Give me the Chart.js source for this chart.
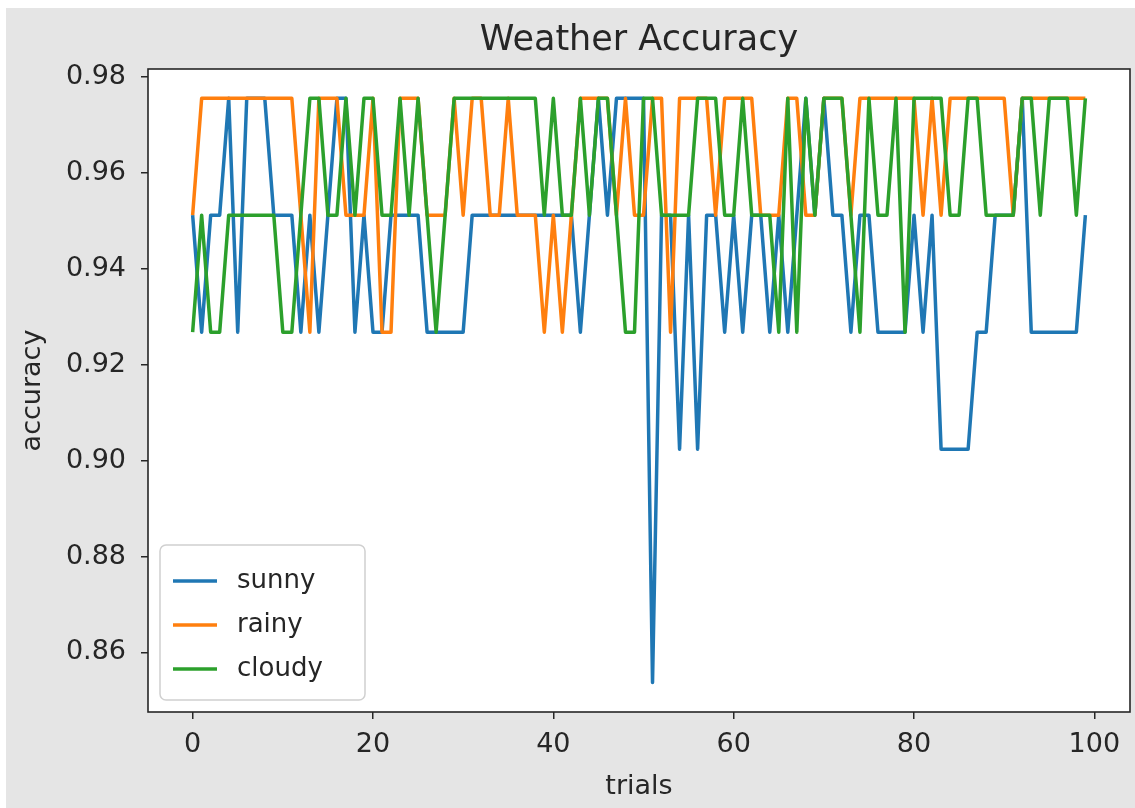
<!DOCTYPE html>
<html>
<head>
<meta charset="utf-8">
<script src="https://cdn.jsdelivr.net/npm/chart.js@4.4.1/dist/chart.umd.min.js"></script>
<style>
  html, body { margin: 0; padding: 0; background: #fff; }
  #wrap { position: relative; width: 1135px; height: 808px; }
</style>
</head>
<body>
<div id="wrap"><canvas id="myChart" width="1135" height="808"></canvas></div>
<script>
// accuracy per trial (levels are 35/41 .. 40/41)
const trials = Array.from({ length: 100 }, (_, i) => i);

const sunny = [
  0.9512, 0.9268, 0.9512, 0.9512, 0.9756, 0.9268, 0.9756, 0.9756, 0.9756, 0.9512,
  0.9512, 0.9512, 0.9268, 0.9512, 0.9268, 0.9512, 0.9756, 0.9756, 0.9268, 0.9512,
  0.9268, 0.9268, 0.9512, 0.9512, 0.9512, 0.9512, 0.9268, 0.9268, 0.9268, 0.9268,
  0.9268, 0.9512, 0.9512, 0.9512, 0.9512, 0.9512, 0.9512, 0.9512, 0.9512, 0.9512,
  0.9512, 0.9512, 0.9512, 0.9268, 0.9512, 0.9756, 0.9512, 0.9756, 0.9756, 0.9756,
  0.9756, 0.8537, 0.9512, 0.9512, 0.9024, 0.9512, 0.9024, 0.9512, 0.9512, 0.9268,
  0.9512, 0.9268, 0.9512, 0.9512, 0.9268, 0.9512, 0.9268, 0.9512, 0.9756, 0.9512,
  0.9756, 0.9512, 0.9512, 0.9268, 0.9512, 0.9512, 0.9268, 0.9268, 0.9268, 0.9268,
  0.9512, 0.9268, 0.9512, 0.9024, 0.9024, 0.9024, 0.9024, 0.9268, 0.9268, 0.9512,
  0.9512, 0.9512, 0.9756, 0.9268, 0.9268, 0.9268, 0.9268, 0.9268, 0.9268, 0.9512
];

const rainy = [
  0.9512, 0.9756, 0.9756, 0.9756, 0.9756, 0.9756, 0.9756, 0.9756, 0.9756, 0.9756,
  0.9756, 0.9756, 0.9512, 0.9268, 0.9756, 0.9756, 0.9756, 0.9512, 0.9512, 0.9512,
  0.9756, 0.9268, 0.9268, 0.9756, 0.9756, 0.9756, 0.9512, 0.9512, 0.9512, 0.9756,
  0.9512, 0.9756, 0.9756, 0.9512, 0.9512, 0.9756, 0.9512, 0.9512, 0.9512, 0.9268,
  0.9512, 0.9268, 0.9512, 0.9756, 0.9756, 0.9756, 0.9756, 0.9512, 0.9756, 0.9512,
  0.9512, 0.9756, 0.9756, 0.9268, 0.9756, 0.9756, 0.9756, 0.9756, 0.9512, 0.9756,
  0.9756, 0.9756, 0.9756, 0.9512, 0.9512, 0.9512, 0.9756, 0.9756, 0.9512, 0.9512,
  0.9756, 0.9756, 0.9756, 0.9512, 0.9756, 0.9756, 0.9756, 0.9756, 0.9756, 0.9756,
  0.9756, 0.9512, 0.9756, 0.9512, 0.9756, 0.9756, 0.9756, 0.9756, 0.9756, 0.9756,
  0.9756, 0.9512, 0.9756, 0.9756, 0.9756, 0.9756, 0.9756, 0.9756, 0.9756, 0.9756
];

const cloudy = [
  0.9268, 0.9512, 0.9268, 0.9268, 0.9512, 0.9512, 0.9512, 0.9512, 0.9512, 0.9512,
  0.9268, 0.9268, 0.9512, 0.9756, 0.9756, 0.9512, 0.9512, 0.9756, 0.9512, 0.9756,
  0.9756, 0.9512, 0.9512, 0.9756, 0.9512, 0.9756, 0.9512, 0.9268, 0.9512, 0.9756,
  0.9756, 0.9756, 0.9756, 0.9756, 0.9756, 0.9756, 0.9756, 0.9756, 0.9756, 0.9512,
  0.9756, 0.9512, 0.9512, 0.9756, 0.9512, 0.9756, 0.9756, 0.9512, 0.9268, 0.9268,
  0.9756, 0.9756, 0.9512, 0.9512, 0.9512, 0.9512, 0.9756, 0.9756, 0.9756, 0.9512,
  0.9512, 0.9756, 0.9512, 0.9512, 0.9512, 0.9268, 0.9756, 0.9268, 0.9756, 0.9512,
  0.9756, 0.9756, 0.9756, 0.9512, 0.9268, 0.9756, 0.9512, 0.9512, 0.9756, 0.9268,
  0.9756, 0.9756, 0.9756, 0.9756, 0.9512, 0.9512, 0.9756, 0.9756, 0.9512, 0.9512,
  0.9512, 0.9512, 0.9756, 0.9756, 0.9512, 0.9756, 0.9756, 0.9756, 0.9512, 0.9756
];

const seriesNames = ['sunny', 'rainy', 'cloudy'];
const seriesColors = ['#1f77b4', '#ff7f0e', '#2ca02c'];
const xTicks = [0, 20, 40, 60, 80, 100];
const yTicks = [0.86, 0.88, 0.90, 0.92, 0.94, 0.96, 0.98];

const FONT = "'DejaVu Sans', sans-serif";
const TEXT = '#262626';

const toPoints = arr => trials.map((t, i) => ({ x: t, y: arr[i] }));

const bgPlugin = {
    id: 'bg',
    afterLayout(chart) {
        // centre the title over the axes box, like matplotlib
        if (chart.titleBlock) {
            chart.titleBlock.left = chart.chartArea.left;
            chart.titleBlock.right = chart.chartArea.right;
        }
    },
    beforeDraw(chart) {
        const c = chart.ctx;
        c.save();
        c.fillStyle = '#ffffff';
        c.fillRect(0, 0, chart.width, chart.height);
        c.fillStyle = '#e5e5e5';
        c.fillRect(6, 8, chart.width - 6, chart.height - 8);
        const a = chart.chartArea;
        c.fillStyle = '#ffffff';
        c.fillRect(a.left, a.top, a.right - a.left, a.bottom - a.top);
        c.restore();
    }
};

const framePlugin = {
    id: 'frame',
    afterDatasetsDraw(chart) {
        const c = chart.ctx;
        const a = chart.chartArea;
        c.save();
        c.strokeStyle = '#262626';
        c.lineWidth = 1.6;
        c.strokeRect(a.left, a.top, a.right - a.left, a.bottom - a.top);
        c.restore();
    }
};

// matplotlib style legend box, lower left inside the axes
const legendPlugin = {
    id: 'boxLegend',
    afterDraw(chart) {
        const c = chart.ctx;
        const a = chart.chartArea;
        const x = a.left + 12, y = a.bottom - 167, w = 205, h = 155;
        c.save();
        c.fillStyle = 'rgba(255,255,255,0.85)';
        c.strokeStyle = '#d0d0d0';
        c.lineWidth = 1.5;
        c.beginPath();
        c.roundRect(x, y, w, h, 6);
        c.fill();
        c.stroke();
        c.font = '26px ' + FONT;
        c.textBaseline = 'middle';
        c.fillStyle = TEXT;
        chart.data.datasets.forEach((ds, i) => {
            const ry = y + 36 + i * 44;
            c.strokeStyle = ds.borderColor;
            c.lineWidth = 3.5;
            c.beginPath();
            c.moveTo(x + 13, ry);
            c.lineTo(x + 57, ry);
            c.stroke();
            c.fillText(ds.label, x + 77, ry);
        });
        c.restore();
    }
};

const ctx = document.getElementById('myChart');

const chart = new Chart(ctx, {
    type: 'line',
    data: {
        datasets: [sunny, rainy, cloudy].map((arr, i) => ({
            label: seriesNames[i],
            data: toPoints(arr),
            borderColor: seriesColors[i],
            backgroundColor: seriesColors[i],
            borderWidth: 3.5,
            borderJoinStyle: 'round',
            pointRadius: 0,
            tension: 0,
            order: 2 - i
        }))
    },
    options: {
        responsive: false,
        animation: false,
        devicePixelRatio: 1,
        layout: { padding: { top: 23, right: 5, bottom: 0, left: 0 } },
        plugins: {
            legend: { display: false },
            tooltip: { enabled: false },
            title: {
                display: true,
                text: 'Weather Accuracy',
                color: TEXT,
                font: { family: FONT, size: 35, weight: 'normal', lineHeight: 1 },
                padding: { top: 0, bottom: 11 }
            }
        },
        scales: {
            x: {
                type: 'linear',
                min: -4.95,
                max: 103.95,
                afterBuildTicks: s => { s.ticks = xTicks.map(v => ({ value: v })); },
                afterFit: s => { s.height = 96; },
                grid: { drawOnChartArea: false, drawTicks: true, tickLength: 7, color: '#262626', lineWidth: 1.5 },
                border: { display: false },
                ticks: { color: TEXT, font: { family: FONT, size: 27 }, padding: 10, maxRotation: 0 },
                title: { display: true, text: 'trials', color: TEXT, font: { family: FONT, size: 27, lineHeight: 1.2 }, padding: { top: 0, bottom: 5 } }
            },
            y: {
                min: 0.847561,
                max: 0.981707,
                afterBuildTicks: s => { s.ticks = yTicks.map(v => ({ value: v })); },
                afterFit: s => { s.width = 148; },
                grid: { drawOnChartArea: false, drawTicks: true, tickLength: 7, color: '#262626', lineWidth: 1.5 },
                border: { display: false },
                ticks: { color: TEXT, font: { family: FONT, size: 27 }, padding: 15, callback: v => v.toFixed(2) },
                title: { display: true, text: 'accuracy', color: TEXT, font: { family: FONT, size: 27, lineHeight: 1.2 }, padding: { top: 17, bottom: 0 } }
            }
        }
    },
    plugins: [bgPlugin, framePlugin, legendPlugin]
});
</script>
</body>
</html>
